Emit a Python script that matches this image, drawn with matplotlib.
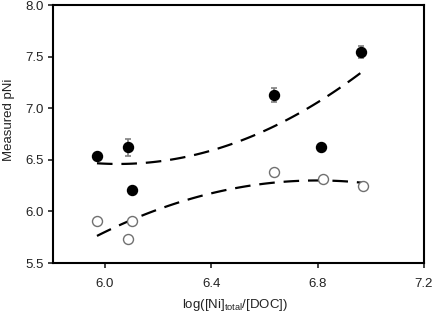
import numpy as np
import matplotlib
matplotlib.use('Agg')
import matplotlib.pyplot as plt

plt.rcParams['font.family'] = ['Liberation Sans', 'DejaVu Sans']

# measured pNi (filled) with error bars
x_meas = [5.97, 6.086, 6.10, 6.636, 6.815, 6.965]
y_meas = [6.54, 6.62, 6.21, 7.13, 6.62, 7.545]
err_meas = [0.0, 0.08, 0.0, 0.065, 0.0, 0.055]

# second series (open circles)
x_open = [5.97, 6.085, 6.10, 6.636, 6.82, 6.97]
y_open = [5.91, 5.73, 5.91, 6.38, 6.31, 6.25]

# dashed trend curves: vertex form a*(x-h)^2 + k
upper_curve = (1.06, 6.05, 6.46)
lower_curve = (-0.78, 6.80, 6.30)
curve_range = (5.97, 6.97)

fig = plt.figure(figsize=(4.32, 3.15), dpi=100)
ax = fig.add_axes([0.123, 0.165, 0.858, 0.819])

xs = np.linspace(curve_range[0], curve_range[1], 100)
for a, h, k in (upper_curve, lower_curve):
    ax.plot(xs, a * (xs - h) ** 2 + k, color='black', lw=1.6,
            dashes=(7, 4), zorder=2)

ax.errorbar(x_meas, y_meas, yerr=err_meas, fmt='none', ecolor='#808080',
            elinewidth=1.2, capsize=2.5, capthick=1.2, zorder=3)
ax.plot(x_meas, y_meas, 'o', color='black', ms=7.2, zorder=4)
ax.plot(x_open, y_open, 'o', mfc='white', mec='#707070', mew=1.0, ms=7.2,
        zorder=4)

ax.set_xlim(5.805, 7.2)
ax.set_ylim(5.5, 8.0)
ax.set_xticks([6.0, 6.4, 6.8, 7.2])
ax.set_yticks([5.5, 6.0, 6.5, 7.0, 7.5, 8.0])
ax.set_xticklabels(['6.0', '6.4', '6.8', '7.2'])
ax.set_yticklabels(['5.5', '6.0', '6.5', '7.0', '7.5', '8.0'])
ax.tick_params(direction='out', length=3.5, width=1.2, labelsize=9.5,
               colors='#222222', top=False, right=False)
ax.tick_params(axis='x', pad=7)
ax.tick_params(axis='y', pad=3)
for s in ax.spines.values():
    s.set_linewidth(1.5)

ax.set_xlabel('log([Ni]$_{\\mathregular{total}}$/[DOC])', fontsize=9.5,
              color='#222222')
ax.set_ylabel('Measured pNi', fontsize=9.5, color='#222222')
ax.xaxis.set_label_coords(0.49, -0.13)
ax.yaxis.set_label_coords(-0.102, 0.554)

fig.savefig('out.png', dpi=100)
